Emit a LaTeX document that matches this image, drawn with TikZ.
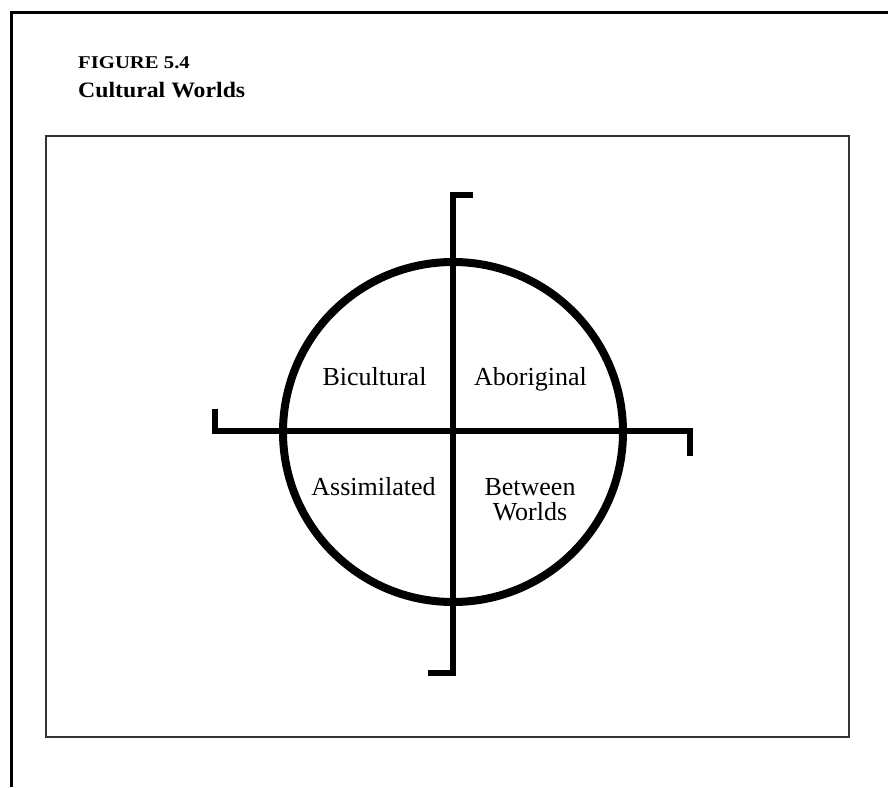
\documentclass[tikz,border=0pt]{standalone}
\usepackage{fontspec}
\setmainfont{Liberation Serif}
\begin{document}
\begin{tikzpicture}[x=1pt,y=-1pt,
  frame/.style={line width=3pt,black},
  panel/.style={line width=2pt,draw=black!80},
  axis/.style={line width=6.5pt,black,line cap=butt,line join=miter},
  ring/.style={line width=8pt,black},
  lbl/.style={font=\fontsize{26}{25}\selectfont,align=center,inner sep=0pt,anchor=base},
  ttl/.style={anchor=base west,inner sep=0pt}]
\useasboundingbox (0,0) rectangle (888,787);
% outer frame (left and top)
\draw[frame] (11.5,787) -- (11.5,12.5) -- (888,12.5);
% title
\node[ttl,font=\bfseries\fontsize{18}{18}\selectfont,xscale=1.15] (fig) at (78,68) {FIGURE 5.4};
\node[ttl,font=\bfseries\fontsize{22}{22}\selectfont,xscale=1.08] (sub) at (78,97) {Cultural Worlds};
% panel
\draw[panel] (46,136) rectangle (849,737);
% circle
\node[circle,draw,ring,minimum size=340pt,inner sep=0pt] (c) at (453,432) {};
% axes
\coordinate (vt) at (453,195);
\coordinate (vtt) at (473,195);
\coordinate (vb) at (453,673);
\coordinate (vbb) at (428,673);
\coordinate (hl) at (215,431);
\coordinate (hlt) at (215,409);
\coordinate (hr) at (690,431);
\coordinate (hrt) at (690,456);
\draw[axis] (vtt) -- (vt) -- (vb) -- (vbb);
\draw[axis] (hlt) -- (hl) -- (hr) -- (hrt);
% labels
\node[lbl] (bi) at (374.5,385) {Bicultural};
\node[lbl] (ab) at (530.5,385) {Aboriginal};
\node[lbl] (as) at (373.5,495) {Assimilated};
\node[lbl] (bw) at (530,495) {Between};
\node[lbl] (bw2) at (530,520) {Worlds};
\end{tikzpicture}
\end{document}
